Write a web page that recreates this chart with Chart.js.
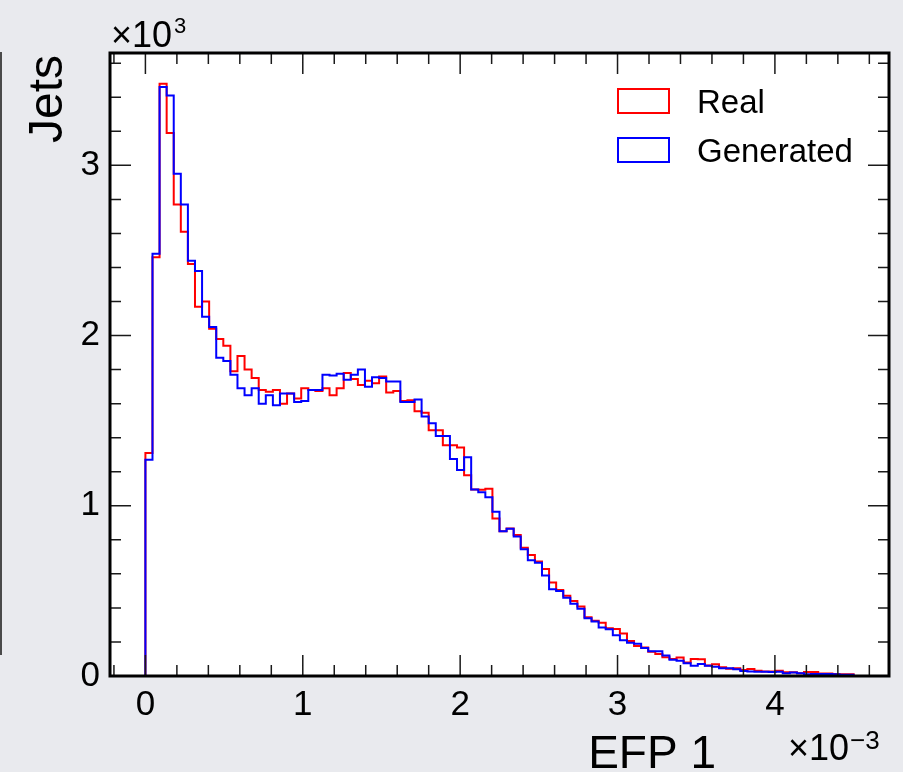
<!DOCTYPE html>
<html>
<head>
<meta charset="utf-8">
<title>EFP 1</title>
<script src="https://cdn.jsdelivr.net/npm/chart.js@4.4.1/dist/chart.umd.min.js"></script>
<style>
  html, body { margin: 0; padding: 0; background: #e9eaee; }
  #wrap { position: relative; width: 903px; height: 772px; overflow: hidden; }
  #edge { position: absolute; left: 0; top: 52px; width: 2px; height: 603px; background: #4a4a4a; }
  canvas { position: absolute; left: 0; top: 0; }
</style>
</head>
<body>
<div id="wrap">
  <div id="edge"></div>
  <canvas id="efp" width="903" height="772"></canvas>
</div>
<script>
// EFP 1 histogram: 100 bins from 0 to 4.5 (x10^-3), counts in units of 10^3 jets
const binLow = 0;
const binWidth = 0.045;

const realCounts = [
  1.31, 2.46, 3.48, 3.19, 2.77, 2.61, 2.42, 2.17, 2.20, 2.04,
  1.98, 1.94, 1.79, 1.88, 1.80, 1.75, 1.68, 1.67, 1.68, 1.60,
  1.66, 1.63, 1.69, 1.68, 1.675, 1.69, 1.65, 1.69, 1.78, 1.745,
  1.71, 1.735, 1.72, 1.76, 1.665, 1.675, 1.615, 1.62, 1.556, 1.546,
  1.444, 1.444, 1.355, 1.355, 1.343, 1.18, 1.096, 1.094, 1.10, 0.926,
  0.851, 0.867, 0.828, 0.754, 0.711, 0.672, 0.628, 0.55, 0.505, 0.472,
  0.441, 0.408, 0.345, 0.325, 0.313, 0.28, 0.276, 0.25, 0.206, 0.176,
  0.168, 0.143, 0.129, 0.11, 0.10, 0.108, 0.08, 0.10, 0.098, 0.061,
  0.069, 0.051, 0.043, 0.045, 0.035, 0.041, 0.031, 0.026, 0.027, 0.031,
  0.022, 0.022, 0.016, 0.023, 0.023, 0.014, 0.014, 0.012, 0.010, 0.010
];

const generatedCounts = [
  1.27, 2.48, 3.46, 3.41, 2.95, 2.77, 2.44, 2.38, 2.11, 2.05,
  1.87, 1.85, 1.77, 1.69, 1.65, 1.69, 1.60, 1.65, 1.59, 1.66,
  1.66, 1.61, 1.615, 1.68, 1.68, 1.77, 1.765, 1.775, 1.74, 1.77,
  1.80, 1.70, 1.755, 1.75, 1.73, 1.73, 1.61, 1.61, 1.625, 1.525,
  1.485, 1.41, 1.41, 1.275, 1.21, 1.285, 1.095, 1.08, 1.05, 0.965,
  0.85, 0.865, 0.82, 0.745, 0.68, 0.665, 0.59, 0.51, 0.50, 0.46,
  0.425, 0.395, 0.34, 0.32, 0.285, 0.275, 0.24, 0.21, 0.195, 0.19,
  0.165, 0.145, 0.145, 0.12, 0.095, 0.09, 0.075, 0.06, 0.07, 0.06,
  0.055, 0.045, 0.045, 0.04, 0.03, 0.027, 0.025, 0.025, 0.023, 0.025,
  0.016, 0.02, 0.016, 0.01, 0.012, 0.012, 0.012, 0.01, 0.008, 0.008
];

const xTickValues = [0, 1, 2, 3, 4];
const yTickValues = [0, 1, 2, 3];
const seriesLabels = ['Real', 'Generated'];
const seriesColors = ['#ff0000', '#0000ff'];

const xMin = -0.225, xMax = 4.725;
const yMin = 0, yMax = 3.66;
const minorStep = 0.2;

const FONT = '"Liberation Sans", Arial, Helvetica, sans-serif';

// turn bin contents into step points: rise from 0 at the first edge, drop to 0 at the last
function histPoints(counts) {
  const pts = [{ x: binLow, y: 0 }];
  counts.forEach((c, i) => pts.push({ x: binLow + i * binWidth, y: c }));
  pts.push({ x: binLow + counts.length * binWidth, y: 0 });
  return pts;
}

function minorValues(lo, hi, step) {
  const out = [];
  const start = Math.ceil(lo / step - 1e-9);
  for (let k = start; k * step <= hi + 1e-9; k++) out.push(+(k * step).toFixed(6));
  return out;
}

// ROOT-like frame: white pad, thick border, inward ticks on all four sides, legend and titles
const rootFrame = {
  id: 'rootFrame',
  beforeDraw(chart) {
    const { ctx, chartArea: a } = chart;
    ctx.save();
    ctx.fillStyle = '#ffffff';
    ctx.fillRect(a.left, a.top, a.right - a.left, a.bottom - a.top);
    ctx.restore();
  },
  afterDraw(chart) {
    const { ctx, chartArea: a, scales } = chart;
    const xs = scales.x, ys = scales.y;
    const majorLen = 21, minorLen = 11;
    ctx.save();

    // ticks
    ctx.strokeStyle = '#1a1a1a';
    ctx.lineWidth = 1.5;
    ctx.beginPath();
    minorValues(xMin, xMax, minorStep).forEach(v => {
      const len = xTickValues.some(t => Math.abs(t - v) < 1e-6) ? majorLen : minorLen;
      const px = xs.getPixelForValue(v);
      ctx.moveTo(px, a.bottom); ctx.lineTo(px, a.bottom - len);
      ctx.moveTo(px, a.top); ctx.lineTo(px, a.top + len);
    });
    minorValues(yMin, yMax, minorStep).forEach(v => {
      const len = yTickValues.some(t => Math.abs(t - v) < 1e-6) ? majorLen : minorLen;
      const py = ys.getPixelForValue(v);
      ctx.moveTo(a.left, py); ctx.lineTo(a.left + len, py);
      ctx.moveTo(a.right, py); ctx.lineTo(a.right - len, py);
    });
    ctx.stroke();

    // frame
    ctx.strokeStyle = '#000000';
    ctx.lineWidth = 3;
    ctx.strokeRect(a.left, a.top, a.right - a.left, a.bottom - a.top);

    // legend
    ctx.lineWidth = 2;
    ctx.font = '33px ' + FONT;
    ctx.fillStyle = '#000000';
    ctx.textBaseline = 'alphabetic';
    ctx.textAlign = 'left';
    seriesLabels.forEach((lab, i) => {
      const top = a.top + 36 + i * 49;
      ctx.strokeStyle = seriesColors[i];
      ctx.strokeRect(a.left + 508, top, 51, 24);
      ctx.fillText(lab, a.left + 587, top + 24);
    });

    // y title
    ctx.save();
    ctx.translate(62, a.top + 2);
    ctx.rotate(-Math.PI / 2);
    ctx.font = '48px ' + FONT;
    ctx.textAlign = 'right';
    ctx.fillText('Jets', 0, 0);
    ctx.restore();

    // y multiplier
    ctx.font = '36px ' + FONT;
    ctx.textAlign = 'left';
    ctx.fillText('\u00d710', 111, 47);
    const w1 = ctx.measureText('\u00d710').width;
    ctx.font = '22px ' + FONT;
    ctx.fillText('3', 111 + w1 + 2, 33);

    // x title
    ctx.font = '46px ' + FONT;
    ctx.textAlign = 'right';
    ctx.fillText('EFP 1', 716, 768);

    // x multiplier
    ctx.font = '36px ' + FONT;
    ctx.textAlign = 'left';
    ctx.fillText('\u00d710', 788, 760);
    const w2 = ctx.measureText('\u00d710').width;
    ctx.font = '26px ' + FONT;
    ctx.fillText('\u22123', 788 + w2 + 1, 749);

    ctx.restore();
  }
};

const ctx = document.getElementById('efp').getContext('2d');
new Chart(ctx, {
  type: 'line',
  data: {
    datasets: [
      {
        label: seriesLabels[0],
        data: histPoints(realCounts),
        borderColor: seriesColors[0],
        borderWidth: 2,
        stepped: true,
        pointRadius: 0,
        fill: false,
        order: 1
      },
      {
        label: seriesLabels[1],
        data: histPoints(generatedCounts),
        borderColor: seriesColors[1],
        borderWidth: 2,
        stepped: true,
        pointRadius: 0,
        fill: false,
        order: 0
      }
    ]
  },
  options: {
    responsive: false,
    animation: false,
    events: [],
    layout: { padding: { top: 53, right: 14, left: 0, bottom: 0 } },
    plugins: { legend: { display: false }, tooltip: { enabled: false } },
    scales: {
      x: {
        type: 'linear',
        min: xMin,
        max: xMax,
        grid: { display: false, drawTicks: false },
        border: { display: false },
        afterBuildTicks: s => { s.ticks = xTickValues.map(v => ({ value: v })); },
        afterFit: s => { s.height = 96; },
        ticks: {
          padding: 8,
          maxRotation: 0,
          color: '#000000',
          font: { family: FONT, size: 35 },
          callback: v => String(v)
        }
      },
      y: {
        type: 'linear',
        min: yMin,
        max: yMax,
        grid: { display: false, drawTicks: false },
        border: { display: false },
        afterBuildTicks: s => { s.ticks = yTickValues.map(v => ({ value: v })); },
        afterFit: s => { s.width = 110; },
        ticks: {
          padding: 10,
          color: '#000000',
          font: { family: FONT, size: 35 },
          callback: v => String(v)
        }
      }
    }
  },
  plugins: [rootFrame]
});
</script>
</body>
</html>
